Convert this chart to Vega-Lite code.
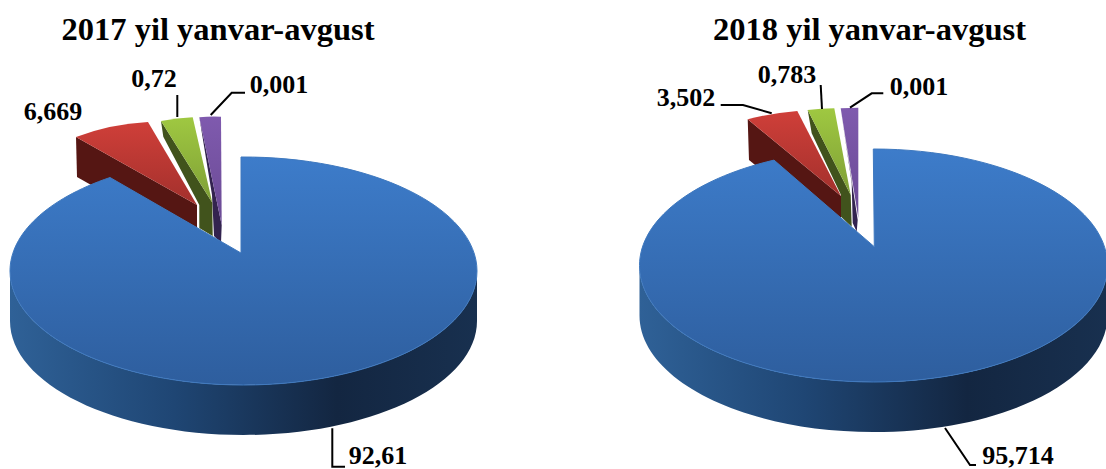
{"$schema":"https://vega.github.io/schema/vega-lite/v6.json","width":1106,"height":469,"autosize":"none","padding":0,"background":"white",
"config":{"view":{"stroke":null},"text":{"font":"Liberation Serif","fontWeight":"bold","fontSize":26,"baseline":"middle","align":"center","color":"#000"},"point":{"size":4,"opacity":1,"filled":true}},
"data":{"values":[
{"year":"2017","item":"Blue","key":"2017 Blue","share":92.61,"label":"92,61"},
{"year":"2017","item":"Red","key":"2017 Red","share":6.669,"label":"6,669"},
{"year":"2017","item":"Green","key":"2017 Green","share":0.72,"label":"0,72"},
{"year":"2017","item":"Purple","key":"2017 Purple","share":0.001,"label":"0,001"},
{"year":"2018","item":"Blue","key":"2018 Blue","share":95.714,"label":"95,714"},
{"year":"2018","item":"Red","key":"2018 Red","share":3.502,"label":"3,502"},
{"year":"2018","item":"Green","key":"2018 Green","share":0.783,"label":"0,783"},
{"year":"2018","item":"Purple","key":"2018 Purple","share":0.001,"label":"0,001"}]},
"layer":[
{"encoding":{"x":{"field":"year","type":"nominal","axis":null,"scale":{"type":"point","padding":0,"domain":["2017","2018"],"range":[242,873]}},"y":{"field":"year","type":"nominal","axis":null,"scale":{"type":"point","padding":0,"domain":["2017","2018"],"range":[272,265]}}},
"layer":[
{"transform":[{"filter":"datum.item=='Purple'"}],"mark":{"type":"point","fill":"#33234f"},"encoding":{"shape":{"field":"year","type":"nominal","legend":null,"scale":{"domain":["2017","2018"],"range":["M-42.7,-154.7 L-30,-77 L-28,-36 L-21,-29 L-20.3,-47 Z","M-32.3,-156.7 L-21.3,-82 L-20.3,-42 L-16.3,-33.3 L-15.3,-45 Z"]}}}},
{"transform":[{"filter":"datum.item=='Purple'"}],"mark":{"type":"point","fill":{"gradient":"linear","x1":0,"y1":0,"x2":0,"y2":1,"stops":[{"offset":0,"color":"#7f5aae"},{"offset":1,"color":"#6a4a94"}]}},"encoding":{"shape":{"field":"year","type":"nominal","legend":null,"scale":{"domain":["2017","2018"],"range":["M-20.3,-47 L-42.7,-154.7 Q-31,-156 -21,-155.3 Z","M-14.7,-47 L-32.3,-156.7 Q-23,-157.3 -14.7,-157.3 Z"]}}}},
{"transform":[{"filter":"datum.item=='Green'"}],"mark":{"type":"point","fill":"#41531c"},"encoding":{"shape":{"field":"year","type":"nominal","legend":null,"scale":{"domain":["2017","2018"],"range":["M-81,-151 L-29.7,-69.3 L-29.3,-36 L-42.7,-44 L-42.7,-67 L-78.7,-135.3 Z","M-65.3,-155 L-22.3,-70 L-21.3,-38.3 L-32,-48.3 L-32,-70 L-61.3,-131.7 Z"]}}}},
{"transform":[{"filter":"datum.item=='Green'"}],"mark":{"type":"point","fill":{"gradient":"linear","x1":0,"y1":0,"x2":0,"y2":1,"stops":[{"offset":0,"color":"#9fc841"},{"offset":1,"color":"#7f9f36"}]}},"encoding":{"shape":{"field":"year","type":"nominal","legend":null,"scale":{"domain":["2017","2018"],"range":["M-29.7,-69.3 L-81,-151 Q-65,-154 -49.3,-154.7 Z","M-22.3,-70 L-65.3,-155 Q-52,-156.5 -38.7,-156.7 Z"]}}}},
{"transform":[{"filter":"datum.item=='Red'"}],"mark":{"type":"point","fill":"#551613"},"encoding":{"shape":{"field":"year","type":"nominal","legend":null,"scale":{"domain":["2017","2018"],"range":["M-166,-135 L-45,-67 L-45,-27 L-165,-95 Z","M-125.3,-145.7 L-32,-69 L-32,-30 L-124,-105 Z"]}}}},
{"transform":[{"filter":"datum.item=='Red'"}],"mark":{"type":"point","fill":{"gradient":"linear","x1":0,"y1":0,"x2":0,"y2":1,"stops":[{"offset":0,"color":"#cf3f39"},{"offset":1,"color":"#a3302c"}]}},"encoding":{"shape":{"field":"year","type":"nominal","legend":null,"scale":{"domain":["2017","2018"],"range":["M-45,-67 L-166,-135 Q-132,-148 -94,-150 Z","M-32,-69 L-125.3,-145.7 Q-101,-152 -75.7,-154 Z"]}}}},
{"transform":[{"filter":"datum.item=='Blue'"}],"mark":{"type":"point","fill":{"gradient":"linear","x1":0,"y1":0,"x2":1,"y2":0,"stops":[{"offset":0,"color":"#2f6197"},{"offset":0.35,"color":"#1f4674"},{"offset":0.7,"color":"#132641"},{"offset":1,"color":"#18304f"}]}},"encoding":{"shape":{"field":"year","type":"nominal","legend":null,"scale":{"domain":["2017","2018"],"range":["M-232,-1 L-232,49 A233.5,114 0 0 0 235,49 L235,-1 A233.5,114 0 0 1 -232,-1 Z","M-233.5,0.5 L-233.5,50.5 A234,116.5 0 0 0 234.5,50.5 L234.5,0.5 A234,116.5 0 0 1 -233.5,0.5 Z"]}}}},
{"transform":[{"filter":"datum.item=='Blue'"}],"mark":{"type":"point","stroke":"#3f79bf","strokeWidth":1,"fill":{"gradient":"linear","x1":0,"y1":0,"x2":0,"y2":1,"stops":[{"offset":0,"color":"#3d7cca"},{"offset":1,"color":"#2e5e9e"}]}},"encoding":{"shape":{"field":"year","type":"nominal","legend":null,"scale":{"domain":["2017","2018"],"range":["M-1,-19 L-1,-115 A233.5,114 0 0 1 235,-1 A233.5,114 0 0 1 -232,-1 A233.5,114 0 0 1 -132,-94.5 Z","M1.3,-18.3 L0.3,-116 A234,116.5 0 0 1 234.5,0.5 A234,116.5 0 0 1 -233.5,0.5 A234,116.5 0 0 1 -99,-104.9 Z"]}}}},
{"transform":[{"filter":"datum.key!='2017 Red'"}],"mark":{"type":"point","filled":false,"stroke":"#000","strokeWidth":2,"fill":null},"encoding":{"shape":{"field":"key","type":"nominal","legend":null,"scale":{"domain":["2017 Blue","2017 Green","2017 Purple","2018 Red","2018 Green","2018 Purple","2018 Blue"],"range":["M90.3,156.3 L90.3,194.7 L103,194.7","M-64.7,-177 L-64.7,-155","M3,-179.3 L-10.3,-179.3 L-31.3,-157","M-152.3,-160 L-130,-160 L-101.3,-151.7","M-52.3,-180 L-51,-156","M10.3,-171.7 L-1.3,-171.7 L-23,-157.3","M72,163 L97,200 L103,200"]}}}}
],"resolve":{"scale":{"shape":"independent"}}},
{"transform":[{"filter":"datum.key=='2017 Blue'"}],"mark":{"type":"text","x":218,"y":30,"fontSize":32.5,"text":"2017 yil yanvar-avgust"}},
{"transform":[{"filter":"datum.key=='2018 Blue'"}],"mark":{"type":"text","x":869.5,"y":30,"fontSize":32.5,"text":"2018 yil yanvar-avgust"}},
{"transform":[{"filter":"datum.key=='2017 Blue'"}],"mark":{"type":"text","x":378,"y":456},"encoding":{"text":{"field":"label"}}},
{"transform":[{"filter":"datum.key=='2017 Red'"}],"mark":{"type":"text","x":53,"y":112},"encoding":{"text":{"field":"label"}}},
{"transform":[{"filter":"datum.key=='2017 Green'"}],"mark":{"type":"text","x":154,"y":79},"encoding":{"text":{"field":"label"}}},
{"transform":[{"filter":"datum.key=='2017 Purple'"}],"mark":{"type":"text","x":279,"y":85},"encoding":{"text":{"field":"label"}}},
{"transform":[{"filter":"datum.key=='2018 Blue'"}],"mark":{"type":"text","x":1018,"y":456},"encoding":{"text":{"field":"label"}}},
{"transform":[{"filter":"datum.key=='2018 Red'"}],"mark":{"type":"text","x":686,"y":98},"encoding":{"text":{"field":"label"}}},
{"transform":[{"filter":"datum.key=='2018 Green'"}],"mark":{"type":"text","x":787,"y":75},"encoding":{"text":{"field":"label"}}},
{"transform":[{"filter":"datum.key=='2018 Purple'"}],"mark":{"type":"text","x":919,"y":87},"encoding":{"text":{"field":"label"}}}
]}
